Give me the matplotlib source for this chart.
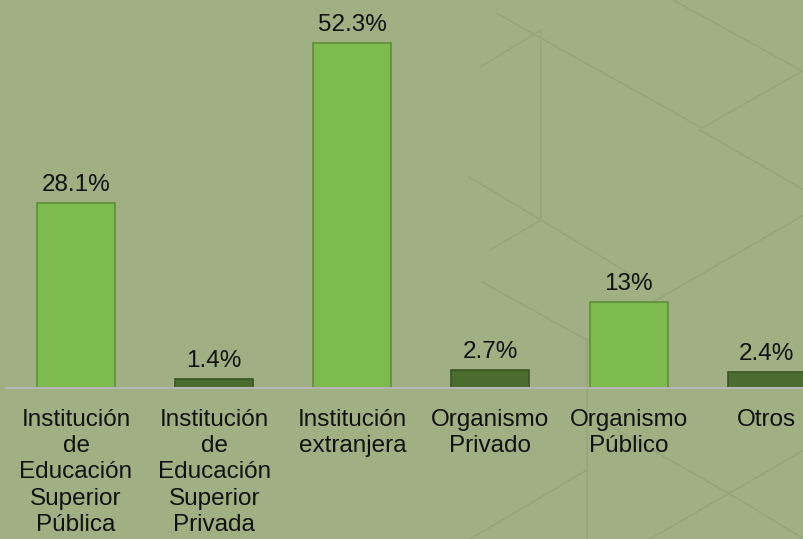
import matplotlib.pyplot as plt
from matplotlib.lines import Line2D

categories = ["Institución\nde\nEducación\nSuperior\nPública",
              "Institución\nde\nEducación\nSuperior\nPrivada",
              "Institución\nextranjera",
              "Organismo\nPrivado",
              "Organismo\nPúblico",
              "Otros"]
values = [28.1, 1.4, 52.3, 2.7, 13, 2.4]
labels = ["28.1%", "1.4%", "52.3%", "2.7%", "13%", "2.4%"]

bg = "#a0b082"
light = "#7dbb4f"
dark = "#4b6c2f"
colors = [light, dark, light, dark, light, dark]
edges = ["#5f8f3c" if c == light else "#3a5524" for c in colors]

plt.rcParams['font.family'] = ['Liberation Sans', 'DejaVu Sans']

fig = plt.figure(figsize=(8.04, 5.39), dpi=100, facecolor=bg)

# faint decorative background lines (figure pixel coords, y from top)
W, H = 804, 539
deco = [
    [(498, 14), (702, 128), (804, 70)],
    [(673, 0), (804, 72)],
    [(541, 30), (541, 220)],
    [(482, 66), (541, 30)],
    [(469, 177), (541, 220), (640, 280)],
    [(541, 220), (490, 250)],
    [(482, 282), (587, 340), (650, 375)],
    [(587, 340), (587, 539)],
    [(587, 340), (700, 275), (804, 215)],
    [(470, 539), (587, 470)],
    [(650, 539), (804, 450)],
    [(600, 420), (740, 500), (804, 539)],
    [(700, 130), (804, 190)],
]
for seg in deco:
    xs = [p[0] / W for p in seg]
    ys = [1 - p[1] / H for p in seg]
    fig.add_artist(Line2D(xs, ys, color="#95a87a", lw=1.2, zorder=0))

ax = fig.add_axes([6 / W, 1 - 388 / H, 1 - 6 / W, 388 / H])
ax.set_facecolor("none")
x = range(len(values))
ax.bar(x, values, width=0.565, color=colors, edgecolor=edges, linewidth=1.2, zorder=2)
for xi, v, lab in zip(x, values, labels):
    ax.annotate(lab, (xi, v), xytext=(0, 5), textcoords="offset points",
                ha="center", va="bottom", fontsize=17.5, color="#111111")

ax.set_xlim(-0.507, 5.27)
ax.set_ylim(0, 58.8)
ax.set_xticks(list(x))
ax.set_xticklabels(categories, fontsize=17.5, linespacing=1.25, color="#111111")
ax.tick_params(axis="x", length=0, pad=15)
ax.set_yticks([])
for s in ["top", "right", "left"]:
    ax.spines[s].set_visible(False)
ax.spines["bottom"].set_color("#b5b5b5")
ax.spines["bottom"].set_linewidth(1.5)

fig.savefig("out.png", dpi=100, facecolor=bg)
